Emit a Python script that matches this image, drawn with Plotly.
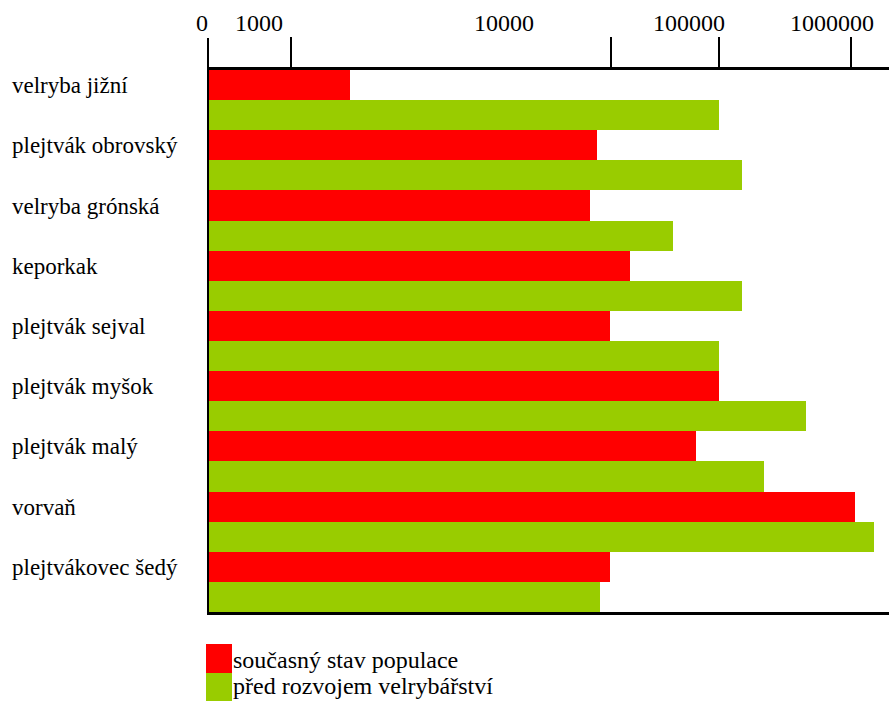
import plotly.graph_objects as go

# Whale species and population estimates (individuals)
species = [
    "velryba jižní",
    "plejtvák obrovský",
    "velryba grónská",
    "keporkak",
    "plejtvák sejval",
    "plejtvák myšok",
    "plejtvák malý",
    "vorvaň",
    "plejtvákovec šedý",
]
current_population = [160, 12000, 10500, 21000, 15000, 100000, 67000, 1080000, 15000]
pre_whaling_population = [100000, 150000, 45000, 150000, 100000, 460000, 220000, 1500000, 12500]

series_names = ["současný stav populace", "před rozvojem velrybářství"]
series_colors = ["#FF0000", "#99CC00"]

# Top scale: printed labels and the tick marks drawn on the axis
scale_labels = ["0", "1000", "10000", "100000", "1000000"]
scale_tick_marks = [57, 15200, 100000, 1000000]

# ---- layout geometry (pixels) ----
W, H = 889, 701
L, R, T, B = 209, 0, 70, 89
PW, PH = W - L - R, H - T - B
FONT = "Liberation Serif, Times New Roman, serif"

# log10 range of the value axis (one decade = 132 px)
X_RANGE = [1.1364, 6.2879]


def fx(px):
    return (px - L) / PW


def fy(py):
    return (H - B - py) / PH


fig = go.Figure()
for name, values, color in zip(series_names,
                               [current_population, pre_whaling_population],
                               series_colors):
    fig.add_trace(go.Bar(
        y=species, x=values, orientation="h", name=name,
        marker=dict(color=color, line=dict(width=0)),
        showlegend=False,
    ))

annotations = []

# species names, left aligned
for sp in species:
    annotations.append(dict(
        x=fx(10), xref="paper", xanchor="left",
        y=sp, yref="y", yanchor="middle", yshift=14.5,
        text=sp, showarrow=False,
        font=dict(family=FONT, size=23, color="black"),
    ))

# labels of the top scale
label_px = [202, 258.5, 504, 689, 832]
for lab, px in zip(scale_labels, label_px):
    annotations.append(dict(
        x=fx(px), xref="paper", xanchor="center",
        y=fy(23), yref="paper", yanchor="middle",
        text=lab, showarrow=False,
        font=dict(family=FONT, size=24, color="black"),
    ))

# legend: coloured blocks with text
legend_rows = [(644, 673, 660), (673, 702, 686)]
shapes = []
for (y0, y1, ytxt), name, color in zip(legend_rows, series_names, series_colors):
    shapes.append(dict(
        type="rect", xref="paper", yref="paper",
        x0=fx(206), x1=fx(232), y0=fy(y1), y1=fy(y0),
        fillcolor=color, line=dict(width=0),
    ))
    annotations.append(dict(
        x=fx(231), xref="paper", xanchor="left",
        y=fy(ytxt), yref="paper", yanchor="middle",
        text=name, showarrow=False,
        font=dict(family=FONT, size=24, color="black"),
    ))

# left border continues up as the "0" tick
shapes.append(dict(
    type="line", xref="paper", yref="paper",
    x0=fx(208), x1=fx(208), y0=1, y1=fy(38),
    line=dict(color="black", width=2),
))

fig.update_layout(
    width=W, height=H,
    margin=dict(l=L, r=R, t=T, b=B, pad=0),
    paper_bgcolor="white", plot_bgcolor="white",
    barmode="group", bargap=0, bargroupgap=0,
    font=dict(family=FONT, size=22, color="black"),
    xaxis=dict(
        type="log", range=X_RANGE, side="top",
        showgrid=False, zeroline=False,
        showline=True, linecolor="black", linewidth=3, mirror=True,
        ticks="outside", ticklen=30, tickwidth=2, tickcolor="black",
        tickvals=scale_tick_marks, ticktext=[""] * len(scale_tick_marks),
        fixedrange=True,
    ),
    yaxis=dict(
        type="category", autorange="reversed",
        showgrid=False, zeroline=False,
        showline=True, linecolor="black", linewidth=2,
        showticklabels=False, ticks="",
        fixedrange=True,
    ),
    annotations=annotations,
    shapes=shapes,
)

fig.write_html("out.html")
